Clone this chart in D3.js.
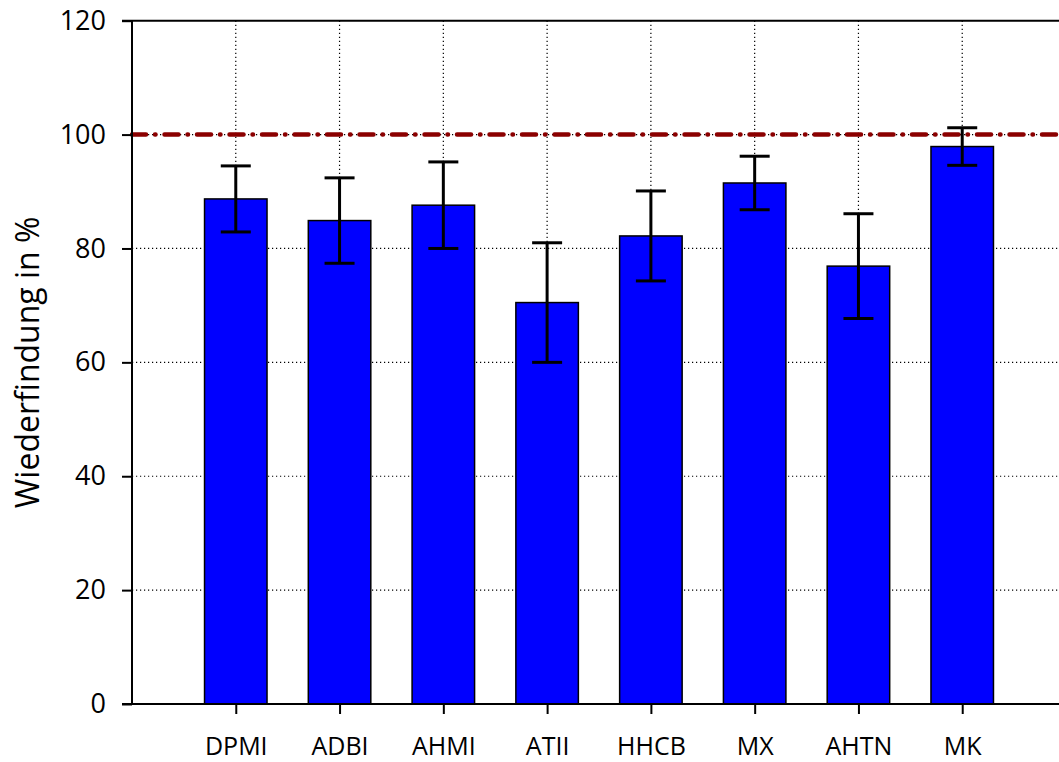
<!DOCTYPE html>
<html>
<head>
<meta charset="utf-8">
<script src="https://cdn.jsdelivr.net/npm/d3@7/dist/d3.min.js"></script>
<style>
  html, body { margin: 0; padding: 0; background: #fff; }
  svg { display: block; }
  text { font-family: "Open Sans", "Liberation Sans", sans-serif; fill: #000; }
</style>
</head>
<body>
<svg id="chart" width="1059" height="762"></svg>
<script>
// Recovery rates (Wiederfindung) per compound, mean and standard deviation in %
const categories = ["DPMI", "ADBI", "AHMI", "ATII", "HHCB", "MX", "AHTN", "MK"];
const means = [88.7, 84.9, 87.6, 70.5, 82.2, 91.5, 76.9, 97.9];
const errors = [5.8, 7.5, 7.6, 10.5, 7.9, 4.7, 9.2, 3.3];
const yTicks = [0, 20, 40, 60, 80, 100, 120];
const referenceLine = 100;

const svg = d3.select("#chart");
const plotLeft = 132, plotTop = 20.7, plotBottom = 704, plotRight = 1066;

// categories sit at positions 1..8 on a 0..9 axis
const x = d3.scaleLinear().domain([0, categories.length + 1]).range([plotLeft, plotRight]);
const y = d3.scaleLinear().domain([0, 120]).range([plotBottom, plotTop]);
const barW = 62.5;

// dotted grid
const grid = svg.append("g").attr("stroke", "#000").attr("stroke-width", 1.2)
  .attr("stroke-dasharray", "1.2 2.8");
grid.selectAll("line.h").data(yTicks.filter(t => t > 0 && t < 120)).join("line")
  .attr("class", "h")
  .attr("x1", plotLeft).attr("x2", plotRight).attr("y1", d => y(d)).attr("y2", d => y(d));
grid.selectAll("line.v").data(categories).join("line")
  .attr("class", "v")
  .attr("x1", (d, i) => x(i + 1)).attr("x2", (d, i) => x(i + 1))
  .attr("y1", plotTop).attr("y2", plotBottom);

// bars
svg.append("g").selectAll("rect").data(means).join("rect")
  .attr("x", (d, i) => x(i + 1) - barW / 2)
  .attr("width", barW)
  .attr("y", d => y(d))
  .attr("height", d => plotBottom - y(d))
  .attr("fill", "#0000ff")
  .attr("stroke", "#000")
  .attr("stroke-width", 1.5);

// 100 % reference line
svg.append("line")
  .attr("x1", plotLeft).attr("x2", plotRight)
  .attr("y1", y(referenceLine)).attr("y2", y(referenceLine))
  .attr("stroke", "#8b0000").attr("stroke-width", 4.5)
  .attr("stroke-linecap", "round")
  .attr("stroke-dasharray", "14 9 0.5 9");

// error bars
const eb = svg.append("g").attr("stroke", "#000").attr("stroke-width", 3);
const capW = 30;
means.forEach((m, i) => {
  const cx = x(i + 1);
  const hi = y(m + errors[i]), lo = y(m - errors[i]);
  eb.append("line").attr("x1", cx).attr("x2", cx).attr("y1", hi).attr("y2", lo);
  eb.append("line").attr("x1", cx - capW / 2).attr("x2", cx + capW / 2).attr("y1", hi).attr("y2", hi);
  eb.append("line").attr("x1", cx - capW / 2).attr("x2", cx + capW / 2).attr("y1", lo).attr("y2", lo);
});

// frame: left and bottom axis lines, top border
const frame = svg.append("g").attr("stroke", "#000").attr("stroke-width", 2);
frame.append("line").attr("x1", plotLeft).attr("x2", plotLeft).attr("y1", plotTop).attr("y2", plotBottom);
frame.append("line").attr("x1", plotLeft - 10).attr("x2", plotRight).attr("y1", plotBottom).attr("y2", plotBottom);
frame.append("line").attr("x1", plotLeft - 10).attr("x2", plotRight).attr("y1", plotTop).attr("y2", plotTop);

// y axis
const yAxis = svg.append("g").attr("transform", `translate(${plotLeft},0)`)
  .call(d3.axisLeft(y).tickValues(yTicks).tickSize(10).tickPadding(16).tickFormat(d3.format("d")));
yAxis.select(".domain").remove();
yAxis.selectAll(".tick line").attr("stroke", "#000").attr("stroke-width", 2);
yAxis.selectAll(".tick text").style("font-size", "27px").attr("fill", "#000");

// x axis ticks and labels
const xAxis = svg.append("g").attr("transform", `translate(0,${plotBottom})`)
  .call(d3.axisBottom(x).tickValues(categories.map((c, i) => i + 1)).tickSize(10)
    .tickFormat(d => categories[d - 1]));
xAxis.select(".domain").remove();
xAxis.selectAll(".tick line").attr("stroke", "#000").attr("stroke-width", 2);
xAxis.selectAll(".tick text")
  .style("font-size", "25px").attr("fill", "#000")
  .attr("y", 51).attr("dy", null);

// y axis title
svg.append("text")
  .attr("transform", `translate(39,${(plotTop + plotBottom) / 2}) rotate(-90)`)
  .attr("text-anchor", "middle")
  .style("font-size", "32px")
  .text("Wiederfindung in %");
</script>
</body>
</html>
